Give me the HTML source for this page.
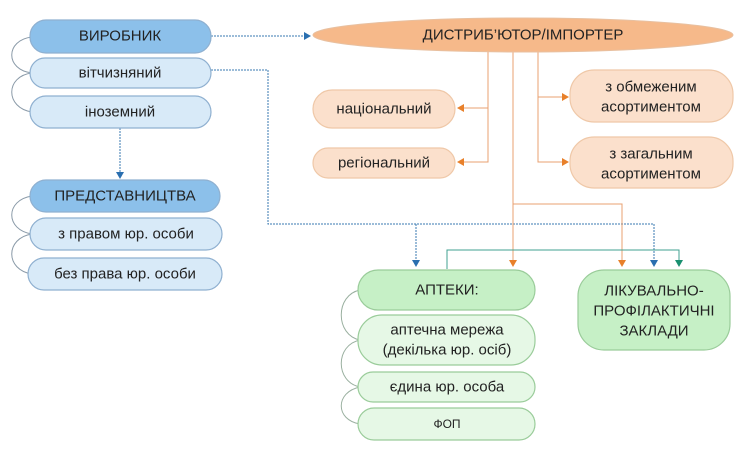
<!DOCTYPE html>
<html><head><meta charset="utf-8"><style>
body{margin:0;background:#fff;}
svg{display:block}
text{font-family:"Liberation Sans","DejaVu Sans",sans-serif;font-size:15px;fill:#222;text-anchor:middle;dominant-baseline:central}
</style></head><body>
<svg width="744" height="449" viewBox="0 0 744 449" xmlns="http://www.w3.org/2000/svg">
<defs>
<marker id="ab" markerWidth="8" markerHeight="8" refX="6" refY="4" orient="auto" markerUnits="userSpaceOnUse"><path d="M0,0 L7,4 L0,8z" fill="#2a6fb0"/></marker>
<marker id="ao" markerWidth="8" markerHeight="8" refX="6" refY="4" orient="auto" markerUnits="userSpaceOnUse"><path d="M0,0 L7,4 L0,8z" fill="#e8802a"/></marker>
<marker id="at" markerWidth="8" markerHeight="8" refX="6" refY="4" orient="auto" markerUnits="userSpaceOnUse"><path d="M0,0 L7,4 L0,8z" fill="#1a9070"/></marker>
</defs>
<g fill="none" stroke="#8a9aa8" stroke-width="1">
<path d="M32,37 C5,40 5,70 32,73"/><path d="M32,73 C5,76 5,108 32,112"/>
<path d="M32,196 C5,200 5,230 32,234"/><path d="M32,234 C5,238 5,270 32,274"/>
</g>
<g fill="none" stroke="#9ab0a0" stroke-width="1">
<path d="M360,290 C335,295 335,335 360,340"/><path d="M360,340 C335,345 335,382 360,387"/><path d="M360,387 C335,392 335,420 360,424"/>
</g>
<g fill="none" stroke="#3a7ab0" stroke-width="1" stroke-dasharray="2,1">
<path d="M211,36 H310" marker-end="url(#ab)"/>
<path d="M211,70 H268 V224 H654 V266" marker-end="url(#ab)"/>
<path d="M416,224 V266" marker-end="url(#ab)"/>
<path d="M120,128 V178" marker-end="url(#ab)"/>
</g>
<g fill="none" stroke="#e8a070" stroke-width="1">
<path d="M488,52 V162 H458" marker-end="url(#ao)"/>
<path d="M488,108 H458" marker-end="url(#ao)"/>
<path d="M538,52 V162 H568" marker-end="url(#ao)"/>
<path d="M538,97 H568" marker-end="url(#ao)"/>
<path d="M513,52 V266" marker-end="url(#ao)"/>
<path d="M513,204 H622 V266" marker-end="url(#ao)"/>
</g>
<path d="M447,269 V250 H679 V266" fill="none" stroke="#40a090" stroke-width="1" marker-end="url(#at)"/>
<g stroke="#8fb0d0" stroke-width="1.2">
<rect x="30" y="20" width="181" height="33" rx="16" fill="#8cc0ea"/>
<rect x="30" y="58" width="181" height="30" rx="15" fill="#d8eaf8"/>
<rect x="30" y="96" width="181" height="32" rx="16" fill="#d8eaf8"/>
<rect x="30" y="180" width="190" height="32" rx="16" fill="#8cc0ea"/>
<rect x="30" y="218" width="192" height="32" rx="16" fill="#d8eaf8"/>
<rect x="28" y="258" width="194" height="32" rx="16" fill="#d8eaf8"/>
</g>
<text x="120" y="36">ВИРОБНИК</text>
<text x="120" y="73">вітчизняний</text>
<text x="120" y="112">іноземний</text>
<text x="125" y="196">ПРЕДСТАВНИЦТВА</text>
<text x="126" y="234">з правом юр. особи</text>
<text x="125" y="274">без права юр. особи</text>
<ellipse cx="523" cy="35" rx="210" ry="17" fill="#f6b98a" stroke="#e8c0a0"/>
<text x="523" y="35">ДИСТРИБ’ЮТОР/ІМПОРТЕР</text>
<g fill="#fbe0cc" stroke="#efc8a8" stroke-width="1.2">
<rect x="313" y="90" width="142" height="38" rx="19"/>
<rect x="313" y="148" width="142" height="30" rx="15"/>
<rect x="570" y="70" width="163" height="52" rx="24"/>
<rect x="570" y="137" width="163" height="51" rx="24"/>
</g>
<text x="384" y="109">національний</text>
<text x="384" y="163">регіональний</text>
<text x="651" y="87">з обмеженим</text><text x="651" y="107">асортиментом</text>
<text x="651" y="154">з загальним</text><text x="651" y="174">асортиментом</text>
<g stroke="#9acc9a" stroke-width="1.2">
<rect x="358" y="270" width="177" height="40" rx="20" fill="#c6f0c6"/>
<rect x="578" y="270" width="152" height="80" rx="26" fill="#c6f0c6"/>
<rect x="358" y="315" width="177" height="50" rx="24" fill="#e6f8e6"/>
<rect x="358" y="372" width="177" height="30" rx="15" fill="#e6f8e6"/>
<rect x="358" y="408" width="177" height="32" rx="16" fill="#e6f8e6"/>
</g>
<text x="447" y="290">АПТЕКИ:</text>
<text x="654" y="291">ЛІКУВАЛЬНО-</text><text x="654" y="311">ПРОФІЛАКТИЧНІ</text><text x="654" y="331">ЗАКЛАДИ</text>
<text x="447" y="330">аптечна  мережа</text><text x="447" y="350">(декілька юр. осіб)</text>
<text x="447" y="387">єдина юр. особа</text>
<text x="447" y="424" style="font-size:12px">ФОП</text>
</svg>
</body></html>
